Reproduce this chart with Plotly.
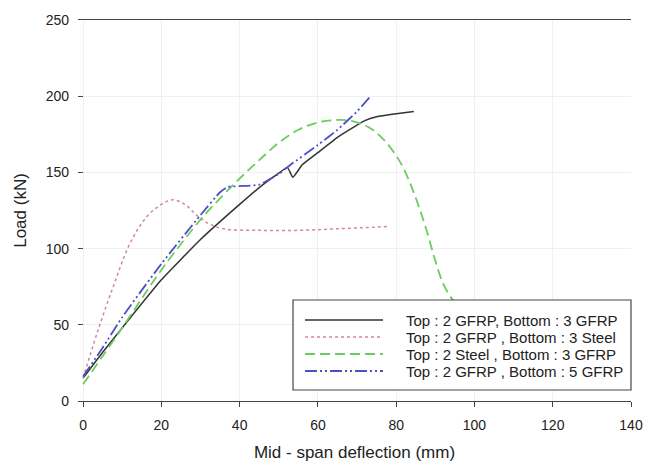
import plotly.graph_objects as go

# Black solid: Top 2 GFRP, Bottom 3 GFRP
x_g3 = [0, 5, 10, 20, 30, 40, 45, 50, 52.2, 53.6, 56, 60, 65, 70, 72, 75, 80, 84.5]
y_g3 = [15, 32, 48, 79.5, 106, 129, 140, 149.5, 153.3, 146.8, 155, 163, 173, 181, 184, 186.5, 188.5, 190]

# Pink dotted: Top 2 GFRP, Bottom 3 Steel
x_s3 = [0, 3.5, 7.7, 12, 16.3, 20, 23, 26, 29, 32, 36, 45, 55, 65, 78]
y_s3 = [15, 44, 75, 103.5, 121, 129, 132, 129, 122, 116.5, 113, 112, 112, 113, 114.5]

# Green dashed: Top 2 Steel, Bottom 3 GFRP
x_st = [0, 10, 20, 30, 35, 40, 45, 50, 55, 60, 65, 68, 71, 74, 77, 80, 82, 84, 86, 88, 90, 92, 94, 96, 99]
y_st = [11, 48, 86, 119, 133, 146, 158, 169.5, 178, 182.8, 184.4, 184, 182, 178, 171, 161, 152, 140, 126, 110, 92, 77, 68, 62, 57]

# Blue dash-dot: Top 2 GFRP, Bottom 5 GFRP
x_g5 = [0, 5, 10, 20, 30, 35, 37, 40, 45, 50, 53, 60, 65, 70, 73.3]
y_g5 = [16, 35, 55, 90, 122, 137, 140.5, 141, 142, 149, 155, 168, 178, 190, 199.5]

names = ["Top : 2 GFRP, Bottom : 3 GFRP", "Top : 2 GFRP , Bottom : 3 Steel",
         "Top : 2 Steel , Bottom : 3 GFRP", "Top : 2 GFRP , Bottom : 5 GFRP"]

x_ticks = [0, 20, 40, 60, 80, 100, 120, 140]
y_ticks = [0, 50, 100, 150, 200, 250]

colors = ["#333333", "#d4879a", "#6acd5e", "#4f4fc4"]
dashes = ["solid", "dot", "10px,5px", "12px,3px,2px,3px,2px,3px"]
widths = [1.5, 1.5, 1.8, 1.8]
series = [(x_g3, y_g3), (x_s3, y_s3), (x_st, y_st), (x_g5, y_g5)]
smooth = [0.4, 1.0, 1.0, 0.5]

fig = go.Figure()
for (xs, ys), nm, c, d, w, s in zip(series, names, colors, dashes, widths, smooth):
    fig.add_trace(go.Scatter(x=xs, y=ys, mode="lines", name=nm, showlegend=False,
                             line=dict(color=c, width=w, dash=d, shape="spline", smoothing=s)))

# manual legend (paper coords: plot area px 78..631 horizontally, 20..401 vertically)
def px_x(p):
    return (p - 78) / 553.0

def px_y(p):
    return (401 - p) / 381.0

shapes = [dict(type="rect", xref="paper", yref="paper",
               x0=px_x(293), x1=px_x(631), y0=px_y(390), y1=px_y(300),
               line=dict(color="#444", width=1.2), fillcolor="white", layer="above")]
annotations = []
rows = [320, 337, 354, 371]
for r, nm, c, d, w in zip(rows, names, colors, dashes, widths):
    shapes.append(dict(type="line", xref="paper", yref="paper",
                       x0=px_x(305), x1=px_x(383), y0=px_y(r), y1=px_y(r),
                       line=dict(color=c, width=w, dash=d), layer="above"))
    annotations.append(dict(xref="paper", yref="paper", x=px_x(404), y=px_y(r),
                            xanchor="left", yanchor="middle", text=nm, showarrow=False,
                            font=dict(size=15, color="#222")))

font_family = "Liberation Sans, Arial, sans-serif"
fig.update_layout(
    width=653, height=465,
    margin=dict(l=78, r=22, t=20, b=64),
    paper_bgcolor="white", plot_bgcolor="white",
    font=dict(family=font_family, size=14, color="#222222"),
    xaxis=dict(range=[-1.3, 140], tickvals=x_ticks, ticks="outside", ticklen=5,
               tickcolor="#444", showline=True, linecolor="#444", linewidth=1.2,
               mirror=True, showgrid=True, gridcolor="#f0f0f0", zeroline=False,
               ticklabelstandoff=6, automargin=False,
               title=dict(text="Mid - span deflection (mm)", font=dict(size=17), standoff=14),
               tickfont=dict(size=14)),
    yaxis=dict(range=[0, 250], tickvals=y_ticks, ticks="inside", ticklen=5,
               tickcolor="#444", showline=False, showgrid=True, gridcolor="#f0f0f0",
               zeroline=False, ticklabelstandoff=8, automargin=False,
               title=dict(text="Load (kN)", font=dict(size=17), standoff=14),
               tickfont=dict(size=14)),
    shapes=shapes,
    annotations=annotations,
    showlegend=False,
)

fig.write_html("out.html")
